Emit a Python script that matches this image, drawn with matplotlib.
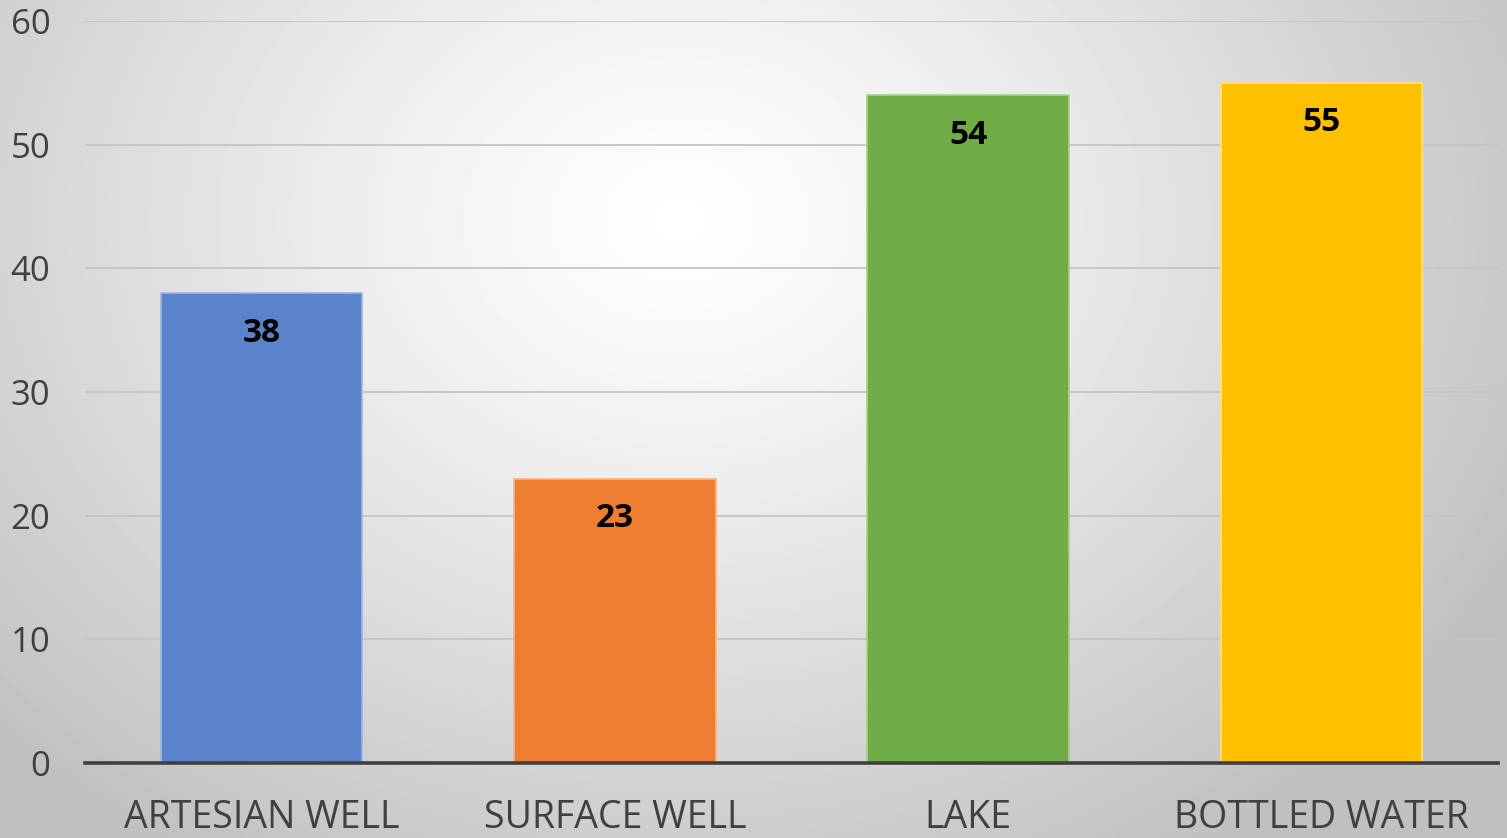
import numpy as np
import matplotlib.pyplot as plt

categories = ['ARTESIAN WELL', 'SURFACE WELL', 'LAKE', 'BOTTLED WATER']
values = [38, 23, 54, 55]
colors = ['#5B83C9', '#ED7D31', '#70AD47', '#FFC000']
edges = ['#9DB6E2', '#F5B78C', '#A9D08E', '#FFE08A']
yticks = [0, 10, 20, 30, 40, 50, 60]

plt.rcParams['font.family'] = ['Open Sans', 'DejaVu Sans']

fig = plt.figure(figsize=(15.07, 8.38), dpi=100)

# radial gradient background
bg = fig.add_axes([0, 0, 1, 1], zorder=0)
gx, gy = np.meshgrid(np.linspace(0, 1507, 400), np.linspace(0, 838, 240))
d = np.sqrt(((gx - 680) / 1000) ** 2 + ((gy - 220) / 800) ** 2)
shade = 1.0 - 0.25 * np.clip(d / 0.95, 0, 1) ** 1.2
bg.imshow(shade, cmap='gray', vmin=0, vmax=1, extent=[0, 1507, 838, 0], aspect='auto', interpolation='bilinear')
bg.axis('off')

ax = fig.add_axes([85 / 1507, 75 / 838, 1413 / 1507, 742 / 838], zorder=1)
ax.patch.set_alpha(0)

x = np.arange(len(categories))
bars = ax.bar(x, values, width=0.57, color=colors, edgecolor=edges, linewidth=1.2, zorder=3)

for xi, v in zip(x, values):
    ax.annotate(str(v), (xi, v), xytext=(0, -40), textcoords='offset pixels',
                ha='center', va='center', fontsize=24, fontweight='bold', color='black', zorder=4)

ax.set_xlim(-0.5, 3.5)
ax.set_ylim(0, 60)
ax.set_yticks(yticks)
ax.set_xticks(x)
ax.set_xticklabels(categories)
ax.grid(axis='y', color='#c4c4c4', linewidth=1.3, zorder=1)
ax.axhline(0, color='#404040', linewidth=2.6, zorder=5, clip_on=False)
for s in ax.spines.values():
    s.set_visible(False)
ax.tick_params(axis='both', length=0, colors='#404040')
ax.tick_params(axis='y', labelsize=25, pad=25)
ax.tick_params(axis='x', labelsize=27, pad=26)

fig.savefig('out.png', dpi=100)
